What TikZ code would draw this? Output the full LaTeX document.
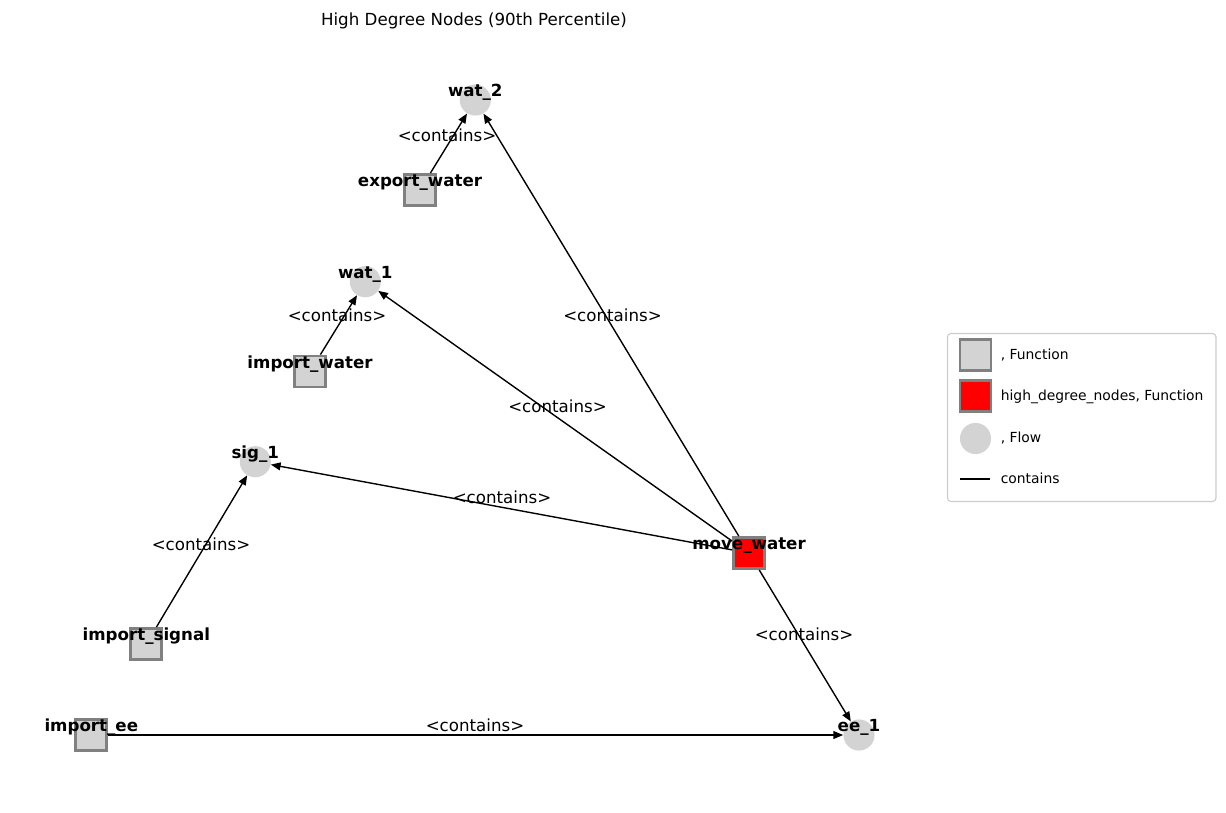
\documentclass[tikz,border=0pt]{standalone}
\usepackage{fontspec}
\setmainfont{DejaVu Sans}
\usetikzlibrary{arrows.meta}
\definecolor{nodefill}{RGB}{211,211,211}
\definecolor{nodeborder}{RGB}{128,128,128}
\definecolor{hdred}{RGB}{255,0,0}
\definecolor{legborder}{RGB}{204,204,204}
\begin{document}
\begin{tikzpicture}[x=0.72pt,y=-0.72pt,
  fn/.style={rectangle, draw=nodeborder, line width=2pt, fill=nodefill, minimum size=22.4pt, inner sep=0pt},
  hd/.style={fn, fill=hdred},
  flow/.style={circle, fill=nodefill, minimum size=22.4pt, inner sep=0pt},
  nlab/.style={font=\bfseries\fontsize{12}{14}\selectfont, anchor=base, inner sep=0pt},
  elab/.style={font=\fontsize{12}{14}\selectfont, anchor=base, inner sep=0pt},
  leglab/.style={font=\fontsize{10}{12}\selectfont, anchor=base west, inner sep=0pt},
  rel/.style={line width=1pt, -{Triangle[length=7pt,width=5.6pt]}},
  legbox/.style={draw=legborder, line width=0.8pt, rounded corners=2.5pt, fill=white, minimum width=193.3pt, minimum height=121pt, inner sep=0pt}
]
\useasboundingbox (0,0) rectangle (1226,812);

% title
\node[elab] (title) at (474,25) {High Degree Nodes (90th Percentile)};

% nodes
\node[flow] (wat2) at (475.3,100) {};
\node[fn]   (expw) at (420,190) {};
\node[flow] (wat1) at (365.3,281.7) {};
\node[fn]   (impw) at (310,371.5) {};
\node[flow] (sig1) at (255.3,461.7) {};
\node[fn]   (imps) at (146.3,644) {};
\node[fn]   (impe) at (91.3,735) {};
\node[flow] (ee1)  at (859,735) {};
\node[hd]   (movw) at (749,553) {};

% edges
\draw[rel] (expw) -- (wat2);
\draw[rel] (movw) -- (wat2);
\draw[rel] (impw) -- (wat1);
\draw[rel] (movw) -- (wat1);
\draw[rel] (movw) -- (sig1);
\draw[rel] (imps) -- (sig1);
\draw[rel] (movw) -- (ee1);
\draw[rel] (impe) -- (ee1);

% edge labels
\node[elab] (l1) at (447,141.7) {<contains>};
\node[elab] (l2) at (612.5,321.7) {<contains>};
\node[elab] (l3) at (337,321.7) {<contains>};
\node[elab] (l4) at (557.5,412.8) {<contains>};
\node[elab] (l5) at (502,503.8) {<contains>};
\node[elab] (l6) at (201,550) {<contains>};
\node[elab] (l7) at (804,640.5) {<contains>};
\node[elab] (l8) at (475,731.7) {<contains>};

% node labels
\node[nlab] (twat2) at ([yshift=2.4pt]wat2.center) {wat\_2};
\node[nlab] (texpw) at ([yshift=2.4pt]expw.center) {export\_water};
\node[nlab] (twat1) at ([yshift=2.4pt]wat1.center) {wat\_1};
\node[nlab] (timpw) at ([yshift=2.4pt]impw.center) {import\_water};
\node[nlab] (tsig1) at ([yshift=2.4pt]sig1.center) {sig\_1};
\node[nlab] (timps) at ([yshift=2.4pt]imps.center) {import\_signal};
\node[nlab] (timpe) at ([yshift=2.4pt]impe.center) {import\_ee};
\node[nlab] (tee1)  at ([yshift=2.4pt]ee1.center) {ee\_1};
\node[nlab] (tmovw) at ([yshift=2.4pt]movw.center) {move\_water};

% legend
\node[legbox] (legend) at (1081.75,417.5) {};
\node[fn] (k1) at (975.5,355) {};
\node[hd] (k2) at (975.5,396) {};
\node[flow] (k3) at (975.5,438.5) {};
\coordinate (k4a) at (960,479);
\coordinate (k4b) at (990,479);
\draw[line width=1.5pt] (k4a) -- (k4b);
\node[leglab] (t1) at (1000.5,359.3) {, Function};
\node[leglab] (t2) at (1000.5,400.5) {high\_degree\_nodes, Function};
\node[leglab] (t3) at (1000.5,442.2) {, Flow};
\node[leglab] (t4) at (1000.5,483.8) {contains};
\end{tikzpicture}
\end{document}
